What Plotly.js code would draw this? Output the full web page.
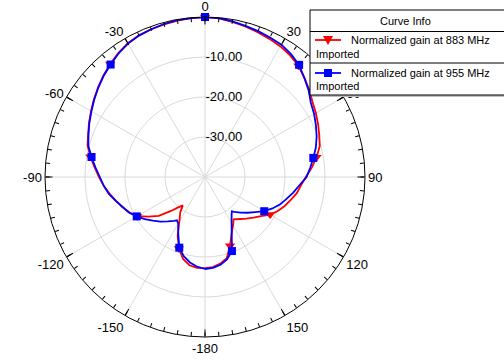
<!DOCTYPE html>
<html>
<head>
<meta charset="utf-8">
<script src="https://cdn.plot.ly/plotly-3.0.1.min.js"></script>
<style>html,body{margin:0;padding:0;background:#fff;}#chart{width:504px;height:363px;}</style>
</head>
<body>
<div id="chart"></div>
<script>
// ---- data ----
const angles883 = [-180,-175,-170,-165,-160,-155,-150,-145,-142,-138,-135,-130,-125,-120,-115,-110,-105,-100,-95,-90,-85,-80,-75,-70,-65,-60,-55,-50,-45,-40,-35,-30,-25,-20,-15,-10,-5,0,5,10,15,20,25,30,35,40,45,50,55,60,65,70,75,80,85,90,95,100,105,110,115,120,125,130,135,140,146,150,155,160,165,170,175,180];
const gain883 = [-17.2,-17.2,-17.6,-18.8,-21.0,-23.8,-27.2,-29.2,-31.0,-29.6,-28.0,-24.9,-22.7,-20.4,-19.1,-18.0,-17.0,-15.8,-14.6,-13.5,-12.3,-10.9,-9.6,-8.9,-8.0,-7.1,-6.1,-5.1,-4.1,-3.1,-2.2,-1.4,-0.9,-0.7,-0.5,-0.3,-0.1,0,-0.2,-0.6,-1.0,-1.5,-1.9,-2.3,-2.9,-3.7,-4.9,-6.0,-7.2,-8.0,-8.8,-9.6,-10.3,-11.7,-13.2,-14.8,-15.9,-16.7,-17.8,-18.8,-19.9,-21.2,-22.9,-24.2,-25.3,-26.3,-27.2,-26.0,-24.3,-21.7,-19.0,-18.0,-17.4,-17.2];
const angles955 = [-180,-175,-170,-165,-160,-155,-150,-147,-145,-140,-135,-130,-125,-120,-115,-110,-105,-100,-95,-90,-85,-80,-75,-70,-65,-60,-55,-50,-45,-40,-35,-30,-25,-20,-15,-10,-5,0,5,10,15,20,25,30,35,40,45,50,55,60,65,70,75,80,85,90,95,100,105,110,115,120,125,130,135,140,142,145,150,155,160,165,170,175,180];
const gain955 = [-17.0,-17.5,-18.3,-19.5,-21.2,-24.2,-26.6,-27.1,-26.6,-25.5,-24.2,-23.0,-21.6,-20.3,-19.0,-18.1,-16.9,-15.6,-14.6,-13.7,-12.5,-11.2,-9.8,-9.0,-8.1,-7.2,-6.2,-5.2,-4.2,-3.3,-2.3,-1.5,-1.0,-0.7,-0.4,-0.2,-0.1,0,-0.1,-0.5,-0.9,-1.2,-1.5,-1.8,-2.5,-3.4,-4.9,-6.2,-7.7,-8.5,-9.4,-10.3,-11.3,-12.5,-13.6,-14.6,-16.3,-17.6,-18.9,-20.0,-21.4,-22.9,-24.7,-26.1,-27.4,-28.6,-29.1,-28.4,-26.7,-24.2,-20.3,-18.7,-17.7,-17.2,-17.0];
const markerAngles = [-160,-120,-80,-40,0,40,80,120,160];
const seriesNames = ['Normalized gain at 883 MHz', 'Normalized gain at 955 MHz'];
const legendTitle = 'Curve Info';
const subLabel = 'Imported';
const angTickVals = [0,30,60,90,120,150,180,210,240,270,300,330];
const angTickText = ['0','30','60','90','120','150','-180','-150','-120','-90','-60','-30'];
const radTickVals = [-30,-20,-10];
const radTickText = ['-30.00','-20.00','-10.00'];
const minorTickVals = Array.from({length:72},(_,i)=>i*5);

// ---- layout helpers ----
const W = 504, H = 363;
const px = x => x / W, py = y => 1 - y / H;
const FONT = 'Liberation Sans, Arial, sans-serif';

function pick(angles, gains) {
  const th = [], r = [];
  angles.forEach((a, i) => { if (markerAngles.includes(a)) { th.push(a); r.push(gains[i]); } });
  return {th, r};
}
const m883 = pick(angles883, gain883);
const m955 = pick(angles955, gain955);

const RED = '#ff0000', BLUE = '#0000ff';

const traces = [
  {type:'scatterpolar', subplot:'polar', mode:'lines', theta:angles883, r:gain883,
   line:{color:RED, width:1.8}, showlegend:false, hoverinfo:'skip'},
  {type:'scatterpolar', subplot:'polar', mode:'markers', theta:m883.th, r:m883.r,
   marker:{color:RED, symbol:'triangle-down', size:9}, showlegend:false, hoverinfo:'skip'},
  {type:'scatterpolar', subplot:'polar', mode:'lines', theta:angles955, r:gain955,
   line:{color:BLUE, width:1.8}, showlegend:false, hoverinfo:'skip'},
  {type:'scatterpolar', subplot:'polar', mode:'markers', theta:m955.th, r:m955.r,
   marker:{color:BLUE, symbol:'square', size:8}, showlegend:false, hoverinfo:'skip'},
  {type:'scatterpolar', subplot:'polar2', mode:'markers', theta:[null], r:[null], showlegend:false, hoverinfo:'skip'}
];

const domX = [px(45), px(365)];
const domY = [py(337), py(17)];

// legend swatch geometry (pixels)
const sw = {x0:315, x1:341, xc:328, y1:40, y2:73};
const tri = (xc, yc, w, h) => `M${px(xc-w/2)},${py(yc-h/2)} L${px(xc+w/2)},${py(yc-h/2)} L${px(xc)},${py(yc+h/2)} Z`;

const layout = {
  width: W, height: H,
  margin:{l:0,r:0,t:0,b:0,pad:0},
  paper_bgcolor:'#fff',
  showlegend:false,
  font:{family:FONT, color:'#000', size:13},
  polar:{
    domain:{x:domX, y:domY},
    bgcolor:'#fff',
    angularaxis:{rotation:90, direction:'clockwise', tickmode:'array', tickvals:angTickVals, ticktext:angTickText,
      ticks:'inside', ticklen:7, tickcolor:'#000', tickwidth:1, showline:true, linecolor:'#000', linewidth:1,
      showgrid:true, gridcolor:'#dadada', gridwidth:1, tickfont:{family:FONT, size:13, color:'#000'}},
    radialaxis:{range:[-40,0], angle:90, tickangle:90, tickmode:'array', tickvals:radTickVals, ticktext:radTickText,
      showline:false, ticks:'', showgrid:true, gridcolor:'#dadada', gridwidth:1,
      tickfont:{family:FONT, size:13, color:'#000'}}
  },
  polar2:{
    domain:{x:domX, y:domY},
    bgcolor:'rgba(0,0,0,0)',
    angularaxis:{rotation:90, direction:'clockwise', tickmode:'array', tickvals:minorTickVals,
      showticklabels:false, ticks:'inside', ticklen:4, tickcolor:'#000', tickwidth:1,
      showline:false, showgrid:false},
    radialaxis:{visible:false, range:[-40,0]}
  },
  shapes:[
    {type:'rect', xref:'paper', yref:'paper', x0:px(312), x1:px(508), y0:py(97), y1:py(12), line:{width:0}, fillcolor:'#bdbdbd', layer:'above'},
    {type:'rect', xref:'paper', yref:'paper', x0:px(310), x1:px(506), y0:py(95), y1:py(10), line:{color:'#000', width:1}, fillcolor:'#fff', layer:'above'},
    {type:'line', xref:'paper', yref:'paper', x0:px(310), x1:px(506), y0:py(31.5), y1:py(31.5), line:{color:'#000', width:1}, layer:'above'},
    {type:'line', xref:'paper', yref:'paper', x0:px(310), x1:px(506), y0:py(63), y1:py(63), line:{color:'#000', width:1}, layer:'above'},
    {type:'line', xref:'paper', yref:'paper', x0:px(sw.x0), x1:px(sw.x1), y0:py(sw.y1), y1:py(sw.y1), line:{color:RED, width:1.8}, layer:'above'},
    {type:'path', xref:'paper', yref:'paper', path:tri(sw.xc, sw.y1+0.5, 10, 9), fillcolor:RED, line:{width:0}, layer:'above'},
    {type:'line', xref:'paper', yref:'paper', x0:px(sw.x0), x1:px(sw.x1), y0:py(sw.y2), y1:py(sw.y2), line:{color:BLUE, width:1.8}, layer:'above'},
    {type:'rect', xref:'paper', yref:'paper', x0:px(sw.xc-4), x1:px(sw.xc+4), y0:py(sw.y2+4), y1:py(sw.y2-4), fillcolor:BLUE, line:{width:0}, layer:'above'}
  ],
  annotations:[
    {xref:'paper', yref:'paper', x:px(405), y:py(21), text:legendTitle, showarrow:false, xanchor:'center', yanchor:'middle', font:{family:FONT, size:11, color:'#000'}},
    {xref:'paper', yref:'paper', x:px(349), y:py(40.5), text:seriesNames[0], showarrow:false, xanchor:'left', yanchor:'middle', font:{family:FONT, size:11, color:'#000'}},
    {xref:'paper', yref:'paper', x:px(314), y:py(54), text:subLabel, showarrow:false, xanchor:'left', yanchor:'middle', font:{family:FONT, size:11, color:'#000'}},
    {xref:'paper', yref:'paper', x:px(349), y:py(73), text:seriesNames[1], showarrow:false, xanchor:'left', yanchor:'middle', font:{family:FONT, size:11, color:'#000'}},
    {xref:'paper', yref:'paper', x:px(314), y:py(86), text:subLabel, showarrow:false, xanchor:'left', yanchor:'middle', font:{family:FONT, size:11, color:'#000'}}
  ]
};

Plotly.newPlot('chart', traces, layout, {staticPlot:true, displayModeBar:false});
</script>
</body>
</html>
